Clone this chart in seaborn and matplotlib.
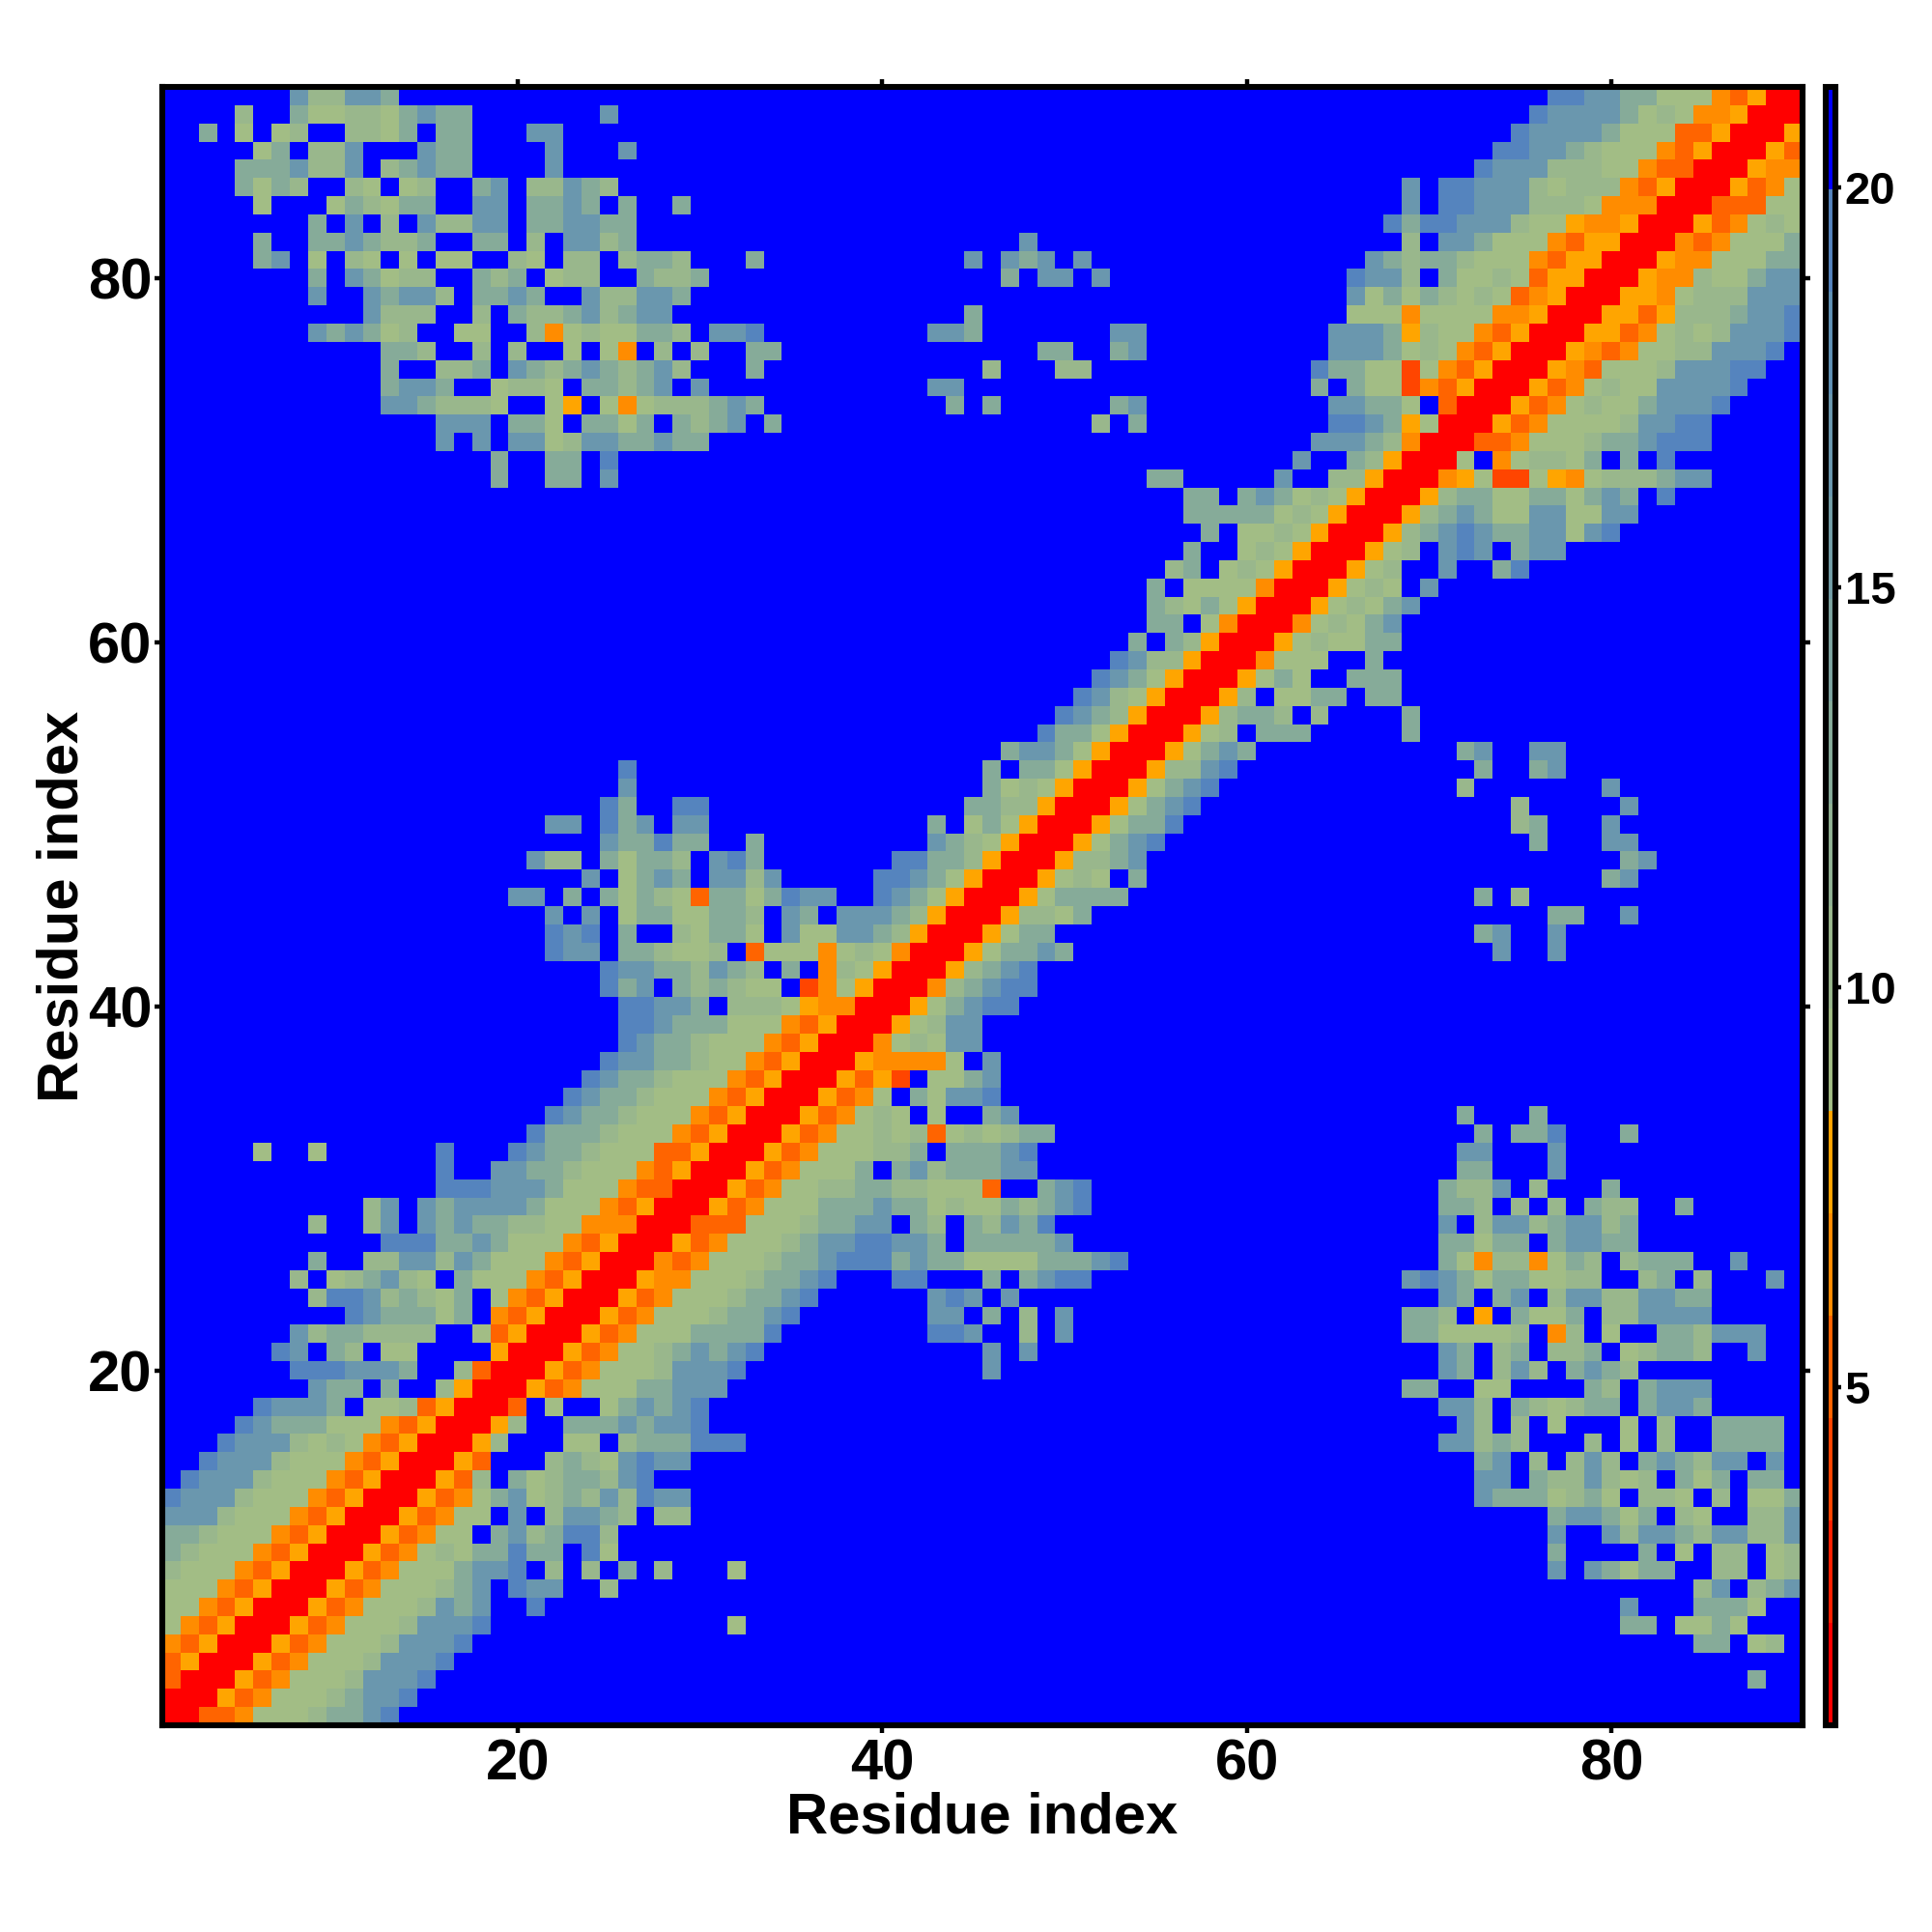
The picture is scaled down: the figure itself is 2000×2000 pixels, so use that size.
import numpy as np
import matplotlib
matplotlib.use('Agg')
import matplotlib.pyplot as plt
from matplotlib.colors import ListedColormap
import seaborn as sns

# distance (angstrom) read for each colour code in the picture
CODE_VALUES = {'0': 1.4, '2': 3.97, '3': 5.25, '4': 6.5, '5': 7.8,
               'a': 9.1, 'b': 10.4, 'c': 13.0, 'd': 16.8, 'e': 19.4, '.': 20.6}

COLORS = ['#FF0000', '#FF2000', '#FF4500', '#FF6400', '#FF8C00', '#FFA500',
          '#A2BD85', '#99B78C', '#90B193', '#86AB99', '#7DA4A0', '#739EA7',
          '#6A97AE', '#6091B5', '#5584BE', '#0000FF']

VMIN = 0.77
VMAX = 21.25
N_RES = 90
TICKS = [20, 40, 60, 80]
CBAR_TICKS = [5, 10, 15, 20]

# matrix is symmetric, only the part above the diagonal of the picture is kept
# (row, first column, codes)
far_contacts = [
    (90, 8, 'dbbddc'),
    (89, 5, 'b..caabbacdcc'), (89, 25, 'd'),
    (88, 3, 'c.a.ab..bbac.cc'), (88, 21, 'dd'),
    (87, 6, 'ac.bbd...dcc'), (87, 22, 'd'), (87, 26, 'd'),
    (86, 5, 'cccdbbd.bcdcc'), (86, 22, 'd'),
    (85, 5, 'cacb..ba.ab..cd.bbdcb'),
    (84, 6, 'a'), (84, 10, 'acbacc..dd.ccdc.c'), (84, 29, 'c'),
    (83, 9, 'c.d.b.dbbdd.ccddcc'),
    (82, 6, 'c'), (82, 9, 'ccdcbbc..cc.b.ddbc'),
    (81, 6, 'cd'), (81, 9, 'a.ba.a.aa..ba.bb.bccb'),
    (80, 9, 'c.dcabb..cbc.abb..cbbc'),
    (79, 9, 'd..dcddb.ccdc..dbbddc'),
    (78, 12, 'dbbb..b.cbbcdbcdd'),
    (77, 9, 'dcdcab..aa..b4abaaccb'),
    (76, 13, 'ccb..b.b..a.a4.b.b'),
    (75, 13, 'c..bbc.dcbcdcbcdb'),
    (74, 13, 'cddc..abba.ccbcd.d'),
    (73, 13, 'ddcbbba..a5.a4abbb'),
    (72, 16, 'ddd.cca.ccac.cb'),
    (71, 16, 'd.d.ddabddccdcc'),
    (70, 19, 'c'), (70, 22, 'cc'), (70, 25, 'e'),
    (69, 19, 'c'), (69, 22, 'cc'), (69, 25, 'd'),
]

middle_contacts = [
    (82, 48, 'd'),
    (81, 33, 'c'), (81, 45, 'd'), (81, 47, 'dcd.d'),
    (80, 47, 'c.dd.d'),
    (78, 45, 'c'),
    (77, 31, 'dde'), (77, 43, 'ddc'), (77, 53, 'dd'),
    (76, 33, 'cc'), (76, 49, 'cc'), (76, 53, 'cd'),
    (75, 33, 'c'), (75, 46, 'b'), (75, 50, 'bb'),
    (74, 43, 'dd'),
    (73, 31, 'cdc'), (73, 44, 'c'), (73, 46, 'c'), (73, 53, 'cd'),
    (72, 31, 'cd'), (72, 34, 'c'), (72, 52, 'b'), (72, 54, 'c'),
    (69, 55, 'cc'),
    (68, 57, 'cc.c'),
    (67, 57, 'cccc'),
    (66, 58, 'c.a'),
    (65, 57, 'c..a'),
    (64, 56, 'bc.ab'),
    (63, 55, 'c.aaaa'),
    (62, 55, 'cbaca5'),
    (61, 55, 'cc.a40'),
]

band_top = [
    (61, 61, '0'),
    (62, 61, '00'),
    (63, 61, '400'),
    (64, 61, 'a500'),
    (65, 61, 'ba500'),
    (66, 61, 'aba500'),
    (67, 61, 'caba500'),
    (68, 61, 'dcaba500'),
    (69, 62, 'd..bb500'),
    (70, 63, 'd..cb500'),
    (71, 64, 'dddcb400'),
    (72, 65, 'eedc5a00'),
    (73, 65, 'ddcca.300'),
    (74, 64, 'c.caa243500'),
    (75, 64, 'eccaa2a43500'),
    (76, 65, 'dddcaba43500'),
    (77, 65, 'dddc5baa43500'),
    (78, 66, 'aaa4aaaa44500'),
    (79, 66, 'dacacbaba34500'),
    (80, 66, 'eddb.caaba35500'),
    (81, 67, 'dcbccbaaa435500'),
    (82, 69, 'b.ddcaaa435500'),
    (83, 68, 'eceedddbaa544500'),
    (84, 69, 'd.eedddbbba44400'),
    (85, 69, 'd.eedddbabbb43500'),
    (86, 73, 'edddbbbaa43300'),
    (87, 74, 'eeddcbaaa43500'),
    (88, 75, 'eddddcaaa33500'),
    (89, 76, 'eddddcaba44500'),
    (90, 77, 'eeddccaaa43500'),
]

band_middle = [
    (60, 54, 'c.cb500'),
    (59, 53, 'edbb500'),
    (58, 52, 'edca500'),
    (57, 51, 'edba500'),
    (56, 50, 'edcb500'),
    (55, 49, 'ecca500'),
    (54, 47, 'cddca500'),
    (53, 46, 'c.cca500'),
    (52, 46, 'caba500'),
    (51, 45, 'ccbb500'),
    (50, 43, 'c.aca500'),
    (49, 33, 'c'), (49, 43, 'dcba500'),
    (48, 31, 'dec'), (48, 41, 'eeccb500'),
    (47, 31, 'ddbd'), (47, 40, 'eedca500'),
    (46, 31, 'ccacedd'), (46, 40, 'edca500'),
    (45, 31, 'ccb.dc.dddcb500'),
    (44, 31, 'cca.daaddcb500'),
    (43, 31, 'b.3aaa4aba400'),
    (42, 31, 'dcb.c.4ba500'),
    (41, 31, 'cbaa.24a500'),
    (40, 32, 'bbba54400'),
    (39, 31, 'caaa43500'),
    (38, 31, 'aaa43500'),
    (37, 31, 'aa43500'),
    (36, 31, 'a43500'),
    (35, 31, '43500'),
    (34, 31, '3500'),
    (33, 31, '500'),
    (32, 31, '00'),
    (31, 31, '0'),
]

left_middle = [
    (53, 26, 'e'),
    (52, 26, 'd'),
    (51, 25, 'ec'), (51, 29, 'ee'),
    (50, 22, 'dd'), (50, 25, 'ecd.dd'),
    (49, 25, 'dccecc'),
    (48, 21, 'dbb'), (48, 25, 'caccb'),
    (47, 24, 'd.acdc'),
    (46, 20, 'dd.c.cacba3'),
    (45, 22, 'd.d.accaa'),
    (44, 22, 'ede.c..ba'),
    (43, 22, 'edd.ccbaa'),
    (42, 25, 'eddccb'),
    (41, 25, 'ecd.cb'),
    (40, 26, 'eeddc'),
    (39, 26, 'eedcc'),
    (38, 26, 'edccb'),
    (37, 25, 'eddccb'),
    (36, 24, 'edccbaa'),
    (35, 23, 'edccbaaa'),
    (34, 22, 'edccbaaa4'),
    (33, 21, 'ecccbaaa43'),
    (32, 6, 'a'), (32, 9, 'a'), (32, 16, 'e'), (32, 20, 'edccbaaa335'),
    (31, 16, 'e'), (31, 19, 'ddccbaaa4350'),
]

band_bottom = [
    (30, 16, 'eeedddcaaa43300'),
    (29, 12, 'bd.dcddddcaaa43500'),
    (28, 9, 'b'), (28, 12, 'bd.dcdccbbaa44400'),
    (27, 13, 'eeeccdcaaa43500'),
    (26, 9, 'c'), (26, 12, 'bbddbdcaaa43500'),
    (25, 8, 'b.abcdba.caaa43500'),
    (24, 9, 'beedbcbac.a43500'),
    (23, 11, 'edcccac.43500'),
    (22, 8, 'dbccbbbb..a3500'),
    (21, 7, 'ed.cb.aa....500'),
    (20, 8, 'eeedddc..b300'),
    (19, 9, 'dcc.c..b500'),
    (18, 6, 'edddc.aab3500'),
    (17, 5, 'edcccaaa43500'),
    (16, 4, 'edddbaba43500'),
    (15, 3, 'edddbaaa43500'),
    (14, 2, 'edddbaaa43500'),
    (13, 1, 'edddbaaa43500'),
    (12, 1, 'dddbaaa43500'),
    (11, 1, 'ccbaaa43500'),
    (10, 1, 'cbaaa43500'),
    (9, 1, 'baaa43500'),
    (8, 1, 'aaa43500'),
    (7, 1, 'aa43500'),
    (6, 1, 'a43500'),
    (5, 1, '43500'),
    (4, 1, '3500'),
    (3, 1, '300'),
    (2, 1, '00'),
    (1, 1, '0'),
]

plt.rcParams['font.family'] = ['Liberation Sans', 'DejaVu Sans']
plt.rcParams['font.weight'] = 'bold'


def build_matrix():
    matrix = np.full((N_RES, N_RES), CODE_VALUES['.'])
    blocks = [far_contacts, middle_contacts, band_top, band_middle, left_middle, band_bottom]
    for block in blocks:
        for row, col, codes in block:
            for i, code in enumerate(codes):
                value = CODE_VALUES[code]
                matrix[row - 1, col - 1 + i] = value
                matrix[col - 1 + i, row - 1] = value
    return matrix


def main():
    matrix = build_matrix()
    fig = plt.figure(figsize=(20, 20), dpi=100)
    ax = fig.add_axes([168 / 2000, 1 - 1786 / 2000, 1698 / 2000, 1696 / 2000])
    cax = fig.add_axes([1890 / 2000, 1 - 1786 / 2000, 10 / 2000, 1696 / 2000])

    sns.heatmap(matrix, ax=ax, cbar_ax=cax, cmap=ListedColormap(COLORS), vmin=VMIN, vmax=VMAX,
                xticklabels=False, yticklabels=False, cbar_kws={'ticks': CBAR_TICKS})
    ax.invert_yaxis()

    ax.set_xticks([t - 0.5 for t in TICKS])
    ax.set_yticks([t - 0.5 for t in TICKS])
    ax.set_xticklabels(TICKS, fontsize=43, fontweight='bold')
    ax.set_yticklabels(TICKS, fontsize=43, fontweight='bold', rotation=0)
    ax.tick_params(axis='x', which='major', direction='out', length=5.5, width=3.2,
                   top=True, pad=4)
    ax.tick_params(axis='y', which='major', direction='out', length=5.5, width=3.2,
                   right=True, pad=2)
    ax.set_xlabel('Residue index', fontsize=43, fontweight='bold', labelpad=0)
    ax.set_ylabel('Residue index', fontsize=43, fontweight='bold', labelpad=-1)
    for spine in ax.spines.values():
        spine.set_visible(True)
        spine.set_linewidth(4.4)

    cbar = ax.collections[0].colorbar
    cbar.outline.set_visible(True)
    cbar.outline.set_linewidth(4.4)
    cbar.outline.set_edgecolor('black')
    cbar.ax.tick_params(length=4, width=3.2, direction='out', pad=3, labelsize=34)
    cbar.ax.set_yticklabels(CBAR_TICKS, fontsize=34, fontweight='bold')

    fig.savefig('out.png', dpi=100)


if __name__ == "__main__":
    main()
